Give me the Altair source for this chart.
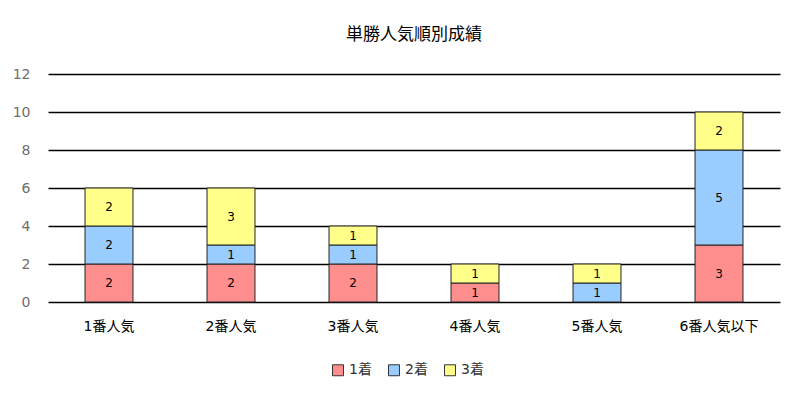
import altair as alt
import pandas as pd

categories = ["1番人気", "2番人気", "3番人気", "4番人気", "5番人気", "6番人気以下"]
series = ["1着", "2着", "3着"]
first = [2, 2, 2, 1, 0, 3]
second = [2, 1, 1, 0, 1, 5]
third = [2, 3, 1, 1, 1, 2]
colors = ["#FF8F8F", "#99CCFF", "#FFFF8A"]

rows = []
for i, c in enumerate(categories):
    for j, (s, vals) in enumerate(zip(series, [first, second, third])):
        if vals[i] > 0:
            rows.append({"cat": c, "series": s, "order": j, "value": vals[i]})
df = pd.DataFrame(rows)

FONT = "Verdana, DejaVu Sans, Noto Sans CJK JP"

base = alt.Chart(df).transform_stack(
    stack="value", groupby=["cat"], as_=["y0", "y1"],
    sort=[alt.SortField("order", order="ascending")]
).transform_calculate(mid="(datum.y0 + datum.y1) / 2")

x = alt.X("cat:N", sort=categories, title=None,
          scale=alt.Scale(paddingInner=0.607, paddingOuter=0.3035),
          axis=alt.Axis(labelAngle=0, domain=False, ticks=False, labelPadding=17,
                        labelFontSize=14, labelColor="#000000", labelFont=FONT))

yaxis = alt.Axis(values=[0, 2, 4, 6, 8, 10, 12], domain=False, ticks=False,
                 grid=True, gridColor="#000000", gridWidth=1.5, labelOverlap=False,
                 labelPadding=18, labelFontSize=14, labelColor="#6E6E6E",
                 labelFont=FONT)
yscale = alt.Scale(domain=[0, 12])

bars = base.mark_bar(stroke="#222222", strokeWidth=1).encode(
    x=x,
    y=alt.Y("y0:Q", title=None, scale=yscale, axis=yaxis),
    y2="y1:Q",
    color=alt.Color("series:N", sort=series,
                    scale=alt.Scale(domain=series, range=colors),
                    legend=alt.Legend(title=None, orient="none", direction="horizontal",
                                      legendX=283, legendY=289,
                                      symbolType="square", symbolSize=120,
                                      symbolStrokeColor="#333333", symbolStrokeWidth=1,
                                      labelFontSize=14, labelFont=FONT, labelColor="#333333",
                                      columnPadding=14)),
)

labels = base.mark_text(fontSize=12, color="#000000", font=FONT).encode(
    x=alt.X("cat:N", sort=categories, title=None),
    y=alt.Y("mid:Q", title=None, scale=yscale, axis=yaxis),
    text="value:Q",
)

chart = alt.layer(bars, labels).properties(
    width=732, height=228,
    title=alt.TitleParams("単勝人気順別成績", fontSize=17, fontWeight="normal",
                          font=FONT, color="#000000", anchor="middle", offset=23),
    padding={"left": 4, "top": 18, "right": 10, "bottom": 5},
).configure_view(stroke=None).configure_axis(gridOpacity=1)

chart.save("out.html", embed_options={"renderer": "svg", "actions": False})
